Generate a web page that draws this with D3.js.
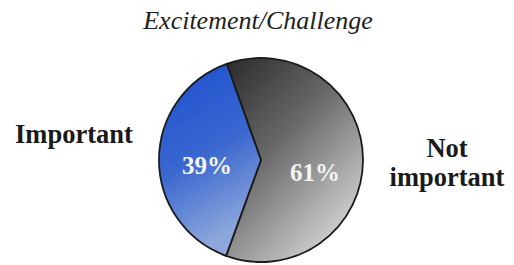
<!DOCTYPE html>
<html><head><meta charset="utf-8">
<script src="https://cdn.jsdelivr.net/npm/d3@7"></script>
<style>html,body{margin:0;padding:0;background:#fff;}</style>
</head><body>
<svg id="c" width="514" height="265"></svg>
<script>
const title = "Excitement/Challenge";
const categories = ["Not important", "Important"];
const values = [61, 39];
const valueLabels = ["61%", "39%"];

const svg = d3.select("#c");
const cx = 261, cy = 160, r = 102;
const SERIF = "'Liberation Serif', 'Times New Roman', Times, serif";

const defs = svg.append("defs");
const gGrey = defs.append("linearGradient").attr("id","gGrey")
  .attr("x1","0%").attr("y1","0%").attr("x2","70%").attr("y2","100%");
gGrey.append("stop").attr("offset","0%").attr("stop-color","#2a2a2a");
gGrey.append("stop").attr("offset","45%").attr("stop-color","#686868");
gGrey.append("stop").attr("offset","100%").attr("stop-color","#d6d6d6");
const gBlue = defs.append("linearGradient").attr("id","gBlue")
  .attr("x1","0%").attr("y1","0%").attr("x2","30%").attr("y2","100%");
gBlue.append("stop").attr("offset","0%").attr("stop-color","#1c4fd0");
gBlue.append("stop").attr("offset","55%").attr("stop-color","#3a67cf");
gBlue.append("stop").attr("offset","100%").attr("stop-color","#8ea8dc");
const fills = ["url(#gGrey)", "url(#gBlue)"];

const start = -19.6 * Math.PI / 180;
const pie = d3.pie().sort(null).startAngle(start).endAngle(start + 2*Math.PI);
const arcs = pie(values);
const arc = d3.arc().innerRadius(0).outerRadius(r);

const g = svg.append("g").attr("transform", `translate(${cx},${cy})`);
g.selectAll("path").data(arcs).join("path")
  .attr("d", arc)
  .attr("fill", (d,i) => fills[i])
  .attr("stroke", "#1a1a1a")
  .attr("stroke-width", 1.8)
  .attr("stroke-linejoin", "miter");

const labelArc = d3.arc().innerRadius(54).outerRadius(54);
const labelDy = [21, 14];
g.selectAll("text.v").data(arcs).join("text")
  .attr("class","v")
  .attr("transform", (d,i) => { const c = labelArc.centroid(d); return `translate(${c[0]},${c[1] + labelDy[i]})`; })
  .attr("text-anchor","middle")
  .style("font-family", SERIF)
  .attr("font-weight","bold")
  .attr("font-size", 25)
  .attr("fill","#f4f4f4")
  .text((d,i) => valueLabels[i]);

svg.append("text")
  .attr("x", 258).attr("y", 29)
  .attr("text-anchor","middle")
  .style("font-family", SERIF)
  .attr("font-style","italic")
  .attr("font-size", 26)
  .attr("fill","#222")
  .text(title);

svg.append("text")
  .attr("x", 15).attr("y", 143)
  .style("font-family", SERIF)
  .attr("font-weight","bold")
  .attr("font-size", 26.5)
  .attr("fill","#1a1a1a")
  .text(categories[1]);

const ni = svg.append("text")
  .attr("text-anchor","middle")
  .style("font-family", SERIF)
  .attr("font-weight","bold")
  .attr("font-size", 26.5)
  .attr("fill","#1a1a1a");
const parts = categories[0].split(" ");
ni.append("tspan").attr("x", 447).attr("y", 157).text(parts[0]);
ni.append("tspan").attr("x", 447).attr("y", 186).text(parts[1]);
</script>
</body></html>
